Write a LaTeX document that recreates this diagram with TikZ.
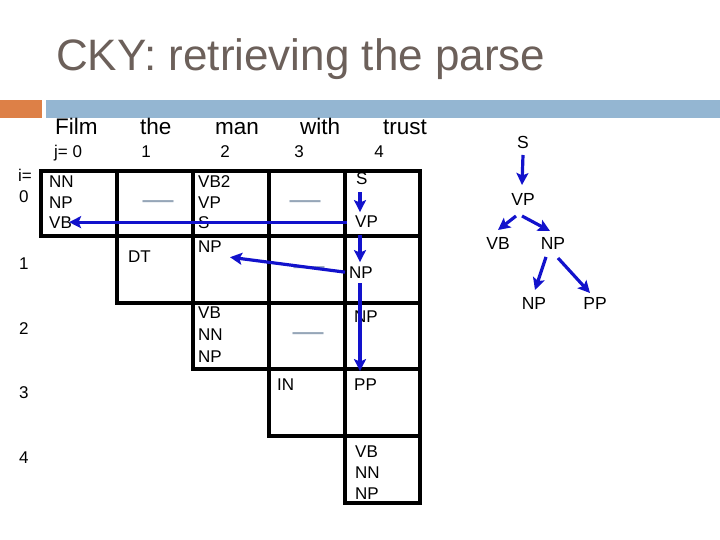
\documentclass[tikz,border=0pt]{standalone}
\usepackage{fontspec}
\setmainfont{Liberation Sans}
\usetikzlibrary{arrows.meta,calc}
\definecolor{titlegray}{RGB}{108,96,90}
\definecolor{barorange}{RGB}{221,128,71}
\definecolor{barblue}{RGB}{148,182,210}
\definecolor{dashgray}{RGB}{150,166,184}
\definecolor{arrowblue}{RGB}{18,18,204}
\tikzset{
  lbl/.style={font=\fontsize{17}{20}\selectfont, inner sep=0pt, anchor=base west},
  hdr/.style={font=\fontsize{22.5}{26}\selectfont, inner sep=0pt, anchor=base west},
  jlbl/.style={font=\fontsize{17}{20}\selectfont, inner sep=0pt, anchor=base},
  emptymark/.style={font=\fontsize{31}{34}\selectfont, text=dashgray, inner sep=0pt, anchor=base},
  tnode/.style={font=\fontsize{17.5}{20}\selectfont, inner sep=0pt},
  cellbox/.style={draw=black, line width=3.4pt},
  arr/.style={draw=arrowblue, line width=3.2pt, -{Stealth[length=12pt,width=12pt,inset=2.5pt]}},
}
\begin{document}
\begin{tikzpicture}[x=1pt,y=-1pt]
\useasboundingbox (0,0) rectangle (720,540);
% title
\node[font=\fontsize{44}{48}\selectfont, text=titlegray, inner sep=0pt, anchor=base west] (title) at (56,71) {CKY: retrieving the parse};
% bars
\fill[barorange] (0,100) rectangle (42,118);
\fill[barblue] (46,100) rectangle (720,118);
% headers
\node[hdr] (wFilm) at (55,135) {Film};
\node[hdr] (wthe) at (140,135) {the};
\node[hdr] (wman) at (215,135) {man};
\node[hdr] (wwith) at (300,135) {with};
\node[hdr] (wtrust) at (383,135) {trust};
\node[jlbl, anchor=base west] (j0) at (54,158) {j= 0};
\node[jlbl] (j1) at (146,158) {1};
\node[jlbl] (j2) at (225,158) {2};
\node[jlbl] (j3) at (299,158) {3};
\node[jlbl] (j4) at (379,158) {4};
% row labels
\node[lbl] (ieq) at (18,182) {i=};
\node[lbl] (i0) at (19,203) {0};
\node[lbl] (i1) at (19,269) {1};
\node[lbl] (i2) at (19,334) {2};
\node[lbl] (i3) at (19,398) {3};
\node[lbl] (i4) at (19,463) {4};
% grid
\foreach \i in {0,...,4}{
  \foreach \j in {\i,...,4}{
    \pgfmathsetmacro\xa{{41,117,193,269,345,420}[\j]}
    \pgfmathsetmacro\xb{{41,117,193,269,345,420}[\j+1]}
    \pgfmathsetmacro\ya{{171,236,303,369,436,503}[\i]}
    \pgfmathsetmacro\yb{{171,236,303,369,436,503}[\i+1]}
    \draw[cellbox] (\xa,\ya) rectangle (\xb,\yb);
  }
}
% cell (0,0)
\node[lbl] (nn00) at (49,188) {NN};
\node[lbl] (np00) at (49,208) {NP};
\node[lbl] (vb00) at (49,229) {VB};
% cell (0,1)
\node[emptymark] (e01) at (158,210) {—};
% cell (0,2)
\node[lbl] (vb202) at (198,188) {VB2};
\node[lbl] (vp02) at (198,208) {VP};
\node[lbl] (s02) at (198,229) {S};
% cell (0,3)
\node[emptymark] (e03) at (305,210) {—};
% cell (0,4)
\node[lbl] (s04) at (356,185) {S};
\node[lbl] (vp04) at (355,227) {VP};
% cell (1,1)
\node[lbl] (dt11) at (128,262) {DT};
% cell (1,2)
\node[lbl] (np12) at (198,252) {NP};
% cell (1,3)
\node[emptymark] (e13) at (309,275) {—};
% cell (1,4)
\node[lbl] (np14) at (349,278) {NP};
% cell (2,2)
\node[lbl] (vb22) at (198,318) {VB};
\node[lbl] (nn22) at (198,340) {NN};
\node[lbl] (np22) at (198,362) {NP};
% cell (2,3)
\node[emptymark] (e23) at (308,341) {—};
% cell (2,4)
\node[lbl] (np24) at (354,322) {NP};
% cell (3,3)
\node[lbl] (in33) at (277,390) {IN};
% cell (3,4)
\node[lbl] (pp34) at (354,390) {PP};
% cell (4,4)
\node[lbl] (vb44) at (355,457) {VB};
\node[lbl] (nn44) at (355,478) {NN};
\node[lbl] (np44) at (355,499) {NP};
% backpointer arrows in chart
\coordinate (col4) at (360,0);
\draw[arr] ($(vp04.west)+(-8,1)$) -- ($(vb00.east)+(-3,-1)$);
\draw[arr] ($(np14.west)+(-4,0)$) -- ($(np12.south east)+(8,5)$);
\draw[arr] ($(col4 |- s04.south)+(0,7)$) -- ($(col4 |- vp04.north)+(0,-3)$);
\draw[arr] ($(col4 |- vp04.south)+(0,8)$) -- ($(col4 |- np14.north)+(0,-4)$);
\draw[arr] ($(col4 |- np14.south)+(0,5)$) -- ($(col4 |- pp34.north)+(0,-7)$);
% tree
\node[tnode] (tS) at (523,142) {S};
\node[tnode] (tVP) at (523,199) {VP};
\node[tnode] (tVB) at (498,243) {VB};
\node[tnode] (tNP) at (553,243) {NP};
\node[tnode] (tNP2) at (534,303) {NP};
\node[tnode] (tPP) at (595,303) {PP};
\draw[arr] ($(tS)+(0,13)$) -- ($(tVP)+(-1,-14)$);
\draw[arr] ($(tVP)+(-7,17)$) -- ($(tVB)+(0,-13)$);
\draw[arr] ($(tVP)+(-1,17)$) -- ($(tNP)+(-3,-12)$);
\draw[arr] ($(tNP)+(-7,14)$) -- ($(tNP2)+(1,-13)$);
\draw[arr] ($(tNP)+(5,15)$) -- ($(tPP)+(-5,-10)$);
\end{tikzpicture}
\end{document}
